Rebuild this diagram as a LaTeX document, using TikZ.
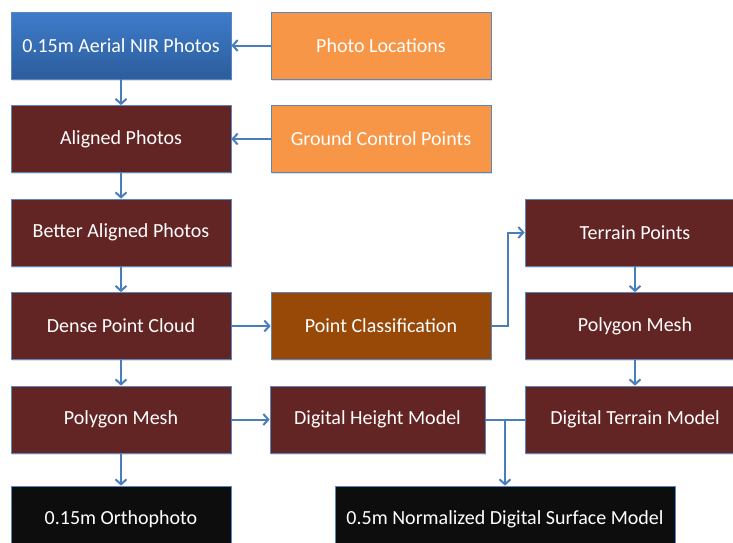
\documentclass[tikz,border=0pt]{standalone}
\usepackage{fontspec}
\setmainfont{Carlito}
\usetikzlibrary{arrows.meta,shadows}
\definecolor{edgeblue}{HTML}{5B86BE}
\definecolor{lineblue}{HTML}{4A7EBB}
\definecolor{darkred}{HTML}{632523}
\definecolor{brownbox}{HTML}{984807}
\definecolor{orangebox}{HTML}{F79646}
\definecolor{blacktop}{HTML}{0D0D0D}
\definecolor{bluetop}{HTML}{3E7CCB}
\definecolor{bluebot}{HTML}{2C5D9C}
\begin{document}
\begin{tikzpicture}[x=1pt,y=-1pt,
  box/.style={draw=edgeblue, line width=0.7pt, minimum width=220pt, minimum height=67pt,
    text=white, font=\fontsize{20}{24}\selectfont, inner sep=0pt,
    drop shadow={opacity=0.25, shadow xshift=1.2pt, shadow yshift=-1.5pt}},
  redbox/.style={box, fill=darkred},
  orbox/.style={box, fill=orangebox},
  blkbox/.style={box, fill=blacktop},
  conn/.style={draw=lineblue, line width=2pt, -{Straight Barb[length=5pt,width=11pt,line width=2pt]}},
  plain/.style={draw=lineblue, line width=2pt}]
\clip (0,0) rectangle (733,542);
\useasboundingbox (0,0) rectangle (733,542);
\node[box, top color=bluetop, bottom color=bluebot] (aerial) at (121,45.5) {0.15m Aerial NIR Photos};
\node[orbox] (photoloc) at (381,45.5) {Photo Locations};
\node[redbox] (aligned) at (121,139) {Aligned Photos};
\node[orbox] (gcp) at (381,139) {Ground Control Points};
\node[redbox] (better) at (121,232.5) {Better Aligned Photos};
\node[redbox] (dense) at (121,326) {Dense Point Cloud};
\node[box, fill=brownbox] (pclass) at (381,326) {Point Classification};
\node[redbox] (polyL) at (121,419.5) {Polygon Mesh};
\node[redbox, minimum width=215pt] (dhm) at (377.5,419.5) {Digital Height Model};
\node[redbox] (terrain) at (635,232.5) {Terrain Points};
\node[redbox] (polyR) at (635,326) {Polygon Mesh};
\node[redbox] (dtm) at (635,419.5) {Digital Terrain Model};
\node[blkbox] (ortho) at (121,519.5) {\raisebox{3pt}{0.15m Orthophoto}};
\node[blkbox, minimum width=340pt] (nds) at (505,519.5) {\raisebox{3pt}{0.5m Normalized Digital Surface Model}};
\coordinate (j1) at (508,326);
\coordinate (j2) at (505,419.5);
\draw[conn] (photoloc) -- (aerial);
\draw[conn] (gcp) -- (aligned);
\draw[conn] (aerial) -- (aligned);
\draw[conn] (aligned) -- (better);
\draw[conn] (better) -- (dense);
\draw[conn] (dense) -- (polyL);
\draw[conn] (polyL) -- (ortho);
\draw[conn] (dense) -- (pclass);
\draw[conn] (pclass.east) -- (j1) |- (terrain.west);
\draw[conn] (terrain) -- (polyR);
\draw[conn] (polyR) -- (dtm);
\draw[conn] (polyL) -- (dhm);
\draw[plain] (dhm.east) -- (dtm.west);
\draw[conn] (j2) -- (nds.north);
\end{tikzpicture}
\end{document}
